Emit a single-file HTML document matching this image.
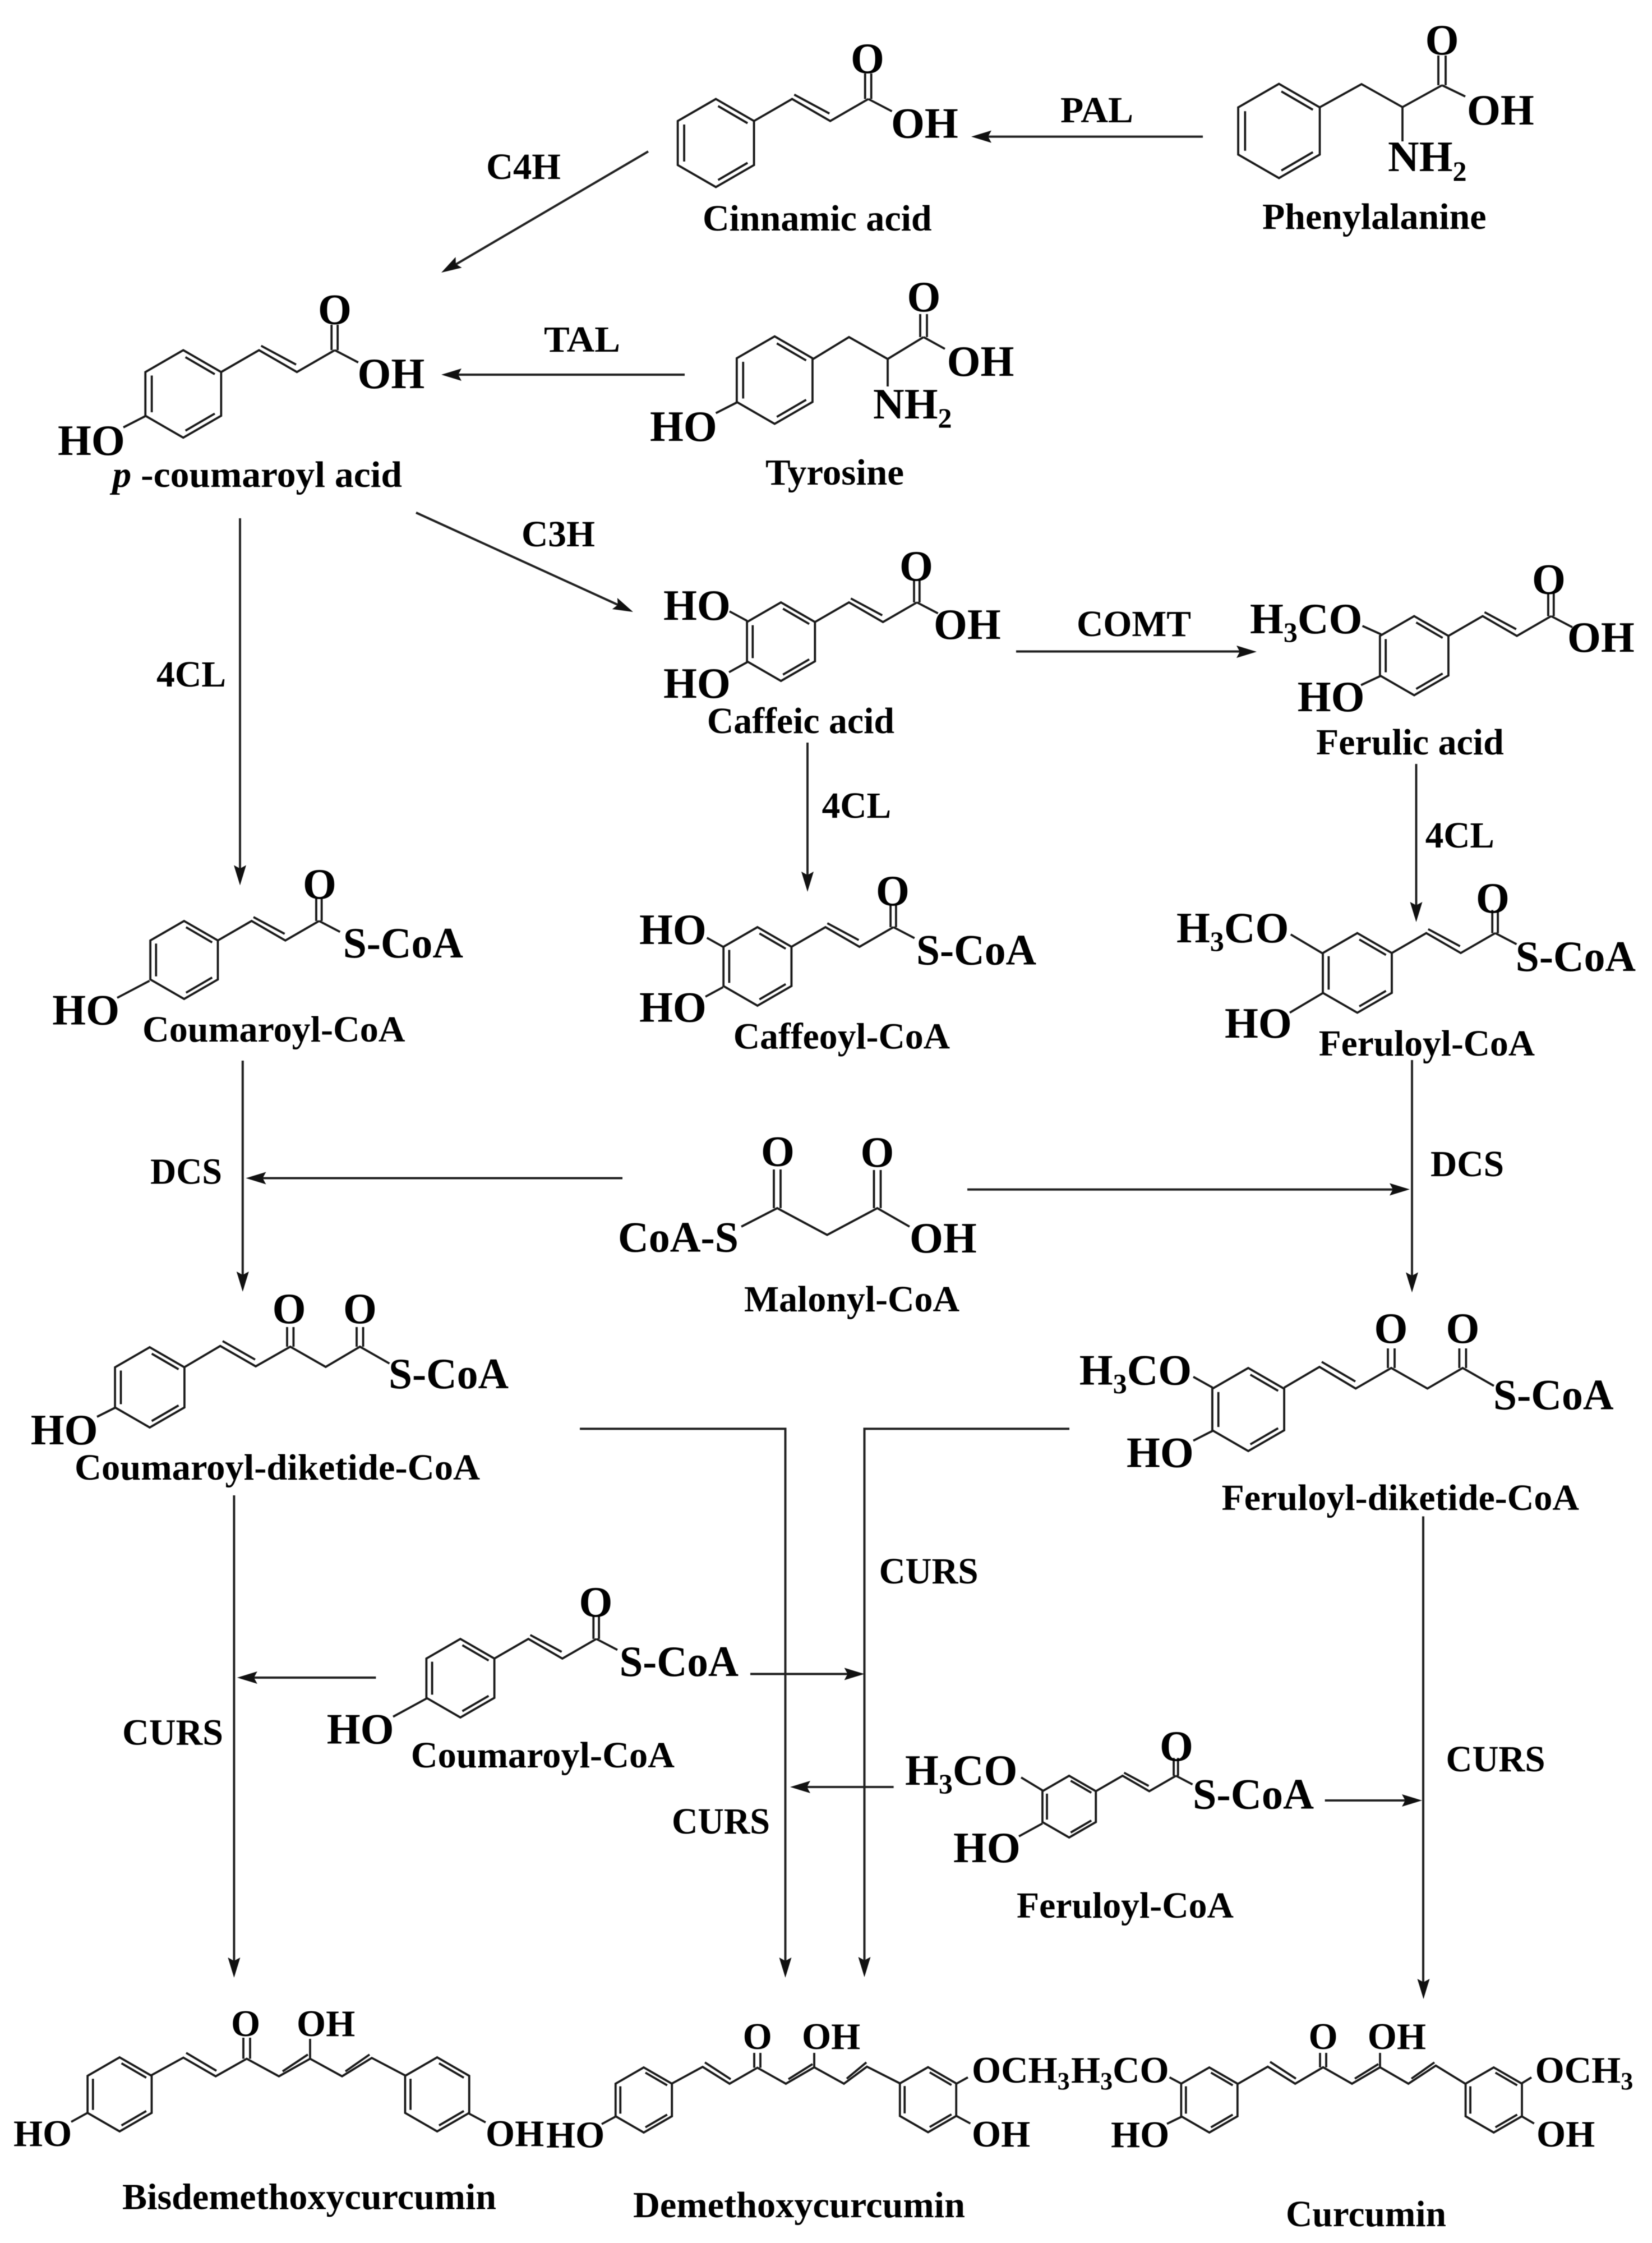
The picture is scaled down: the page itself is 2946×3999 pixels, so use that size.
<!DOCTYPE html>
<html><head><meta charset="utf-8"><style>
html,body{margin:0;padding:0;background:#fff}
svg{display:block;filter:blur(.9px)}
text{font-family:"Liberation Serif",serif;font-weight:bold;fill:#000}
.m{font-size:77px}.s{font-size:67px}.n{font-size:66px}.c{text-anchor:middle}
.nss{vector-effect:non-scaling-stroke}
.b{fill:none;stroke:#1a1a1a;stroke-width:3.8}
.a{fill:none;stroke:#222;stroke-width:4}
</style></head><body>
<svg xmlns="http://www.w3.org/2000/svg" width="2946" height="3999" viewBox="0 0 2946 3999">
<defs>
<path id="ring" class="nss" d="M0-100 86.6-50V50L0 100-86.6 50V-50ZM5-84 72-45M72 45 5 84M-72-42V42"/>
<g id="cin"><use href="#ring"/><path class="nss" d="M86.6-50 173.2-100 259.8-50 346.4-100M178-110 258-67M339-100V-158M353-100V-158M346.4-100 400-72"/></g>
<polygon id="ah" points="0,0 -36,-11 -30,0 -36,11" fill="#111"/>
</defs>
<rect width="2946" height="3999" fill="#fff"/>

<g class="b">
<!-- cinnamic -->
<use href="#cin" transform="translate(1276.6 255) scale(.785)"/>
<!-- phenylalanine -->
<use href="#ring" transform="translate(2280.8 233.5) scale(.84)"/>
<path d="M2354 191 2428 150 2501 191 2571.6 152M2565 152V99M2578 152V99M2571.6 152 2613 172M2501 191V252"/>
<!-- tyrosine -->
<use href="#ring" transform="translate(1381.4 677.7) scale(.78)"/>
<path d="M1448.5 641 1514 601 1583 640 1647 601M1641 601V560M1653 601V560M1647 601 1685 622M1583 640V689M1314 717.5 1276.6 736.6"/>
<!-- p-coumaroyl -->
<use href="#cin" transform="translate(326.8 702.3) scale(.78)"/>
<path d="M259 742 220 762"/>
<!-- caffeic -->
<use href="#cin" transform="translate(1392.7 1144) scale(.7)"/>
<path d="M1332.5 1107 1301 1090M1332.5 1180.6 1300 1198.5"/>
<!-- ferulic -->
<use href="#cin" transform="translate(2521.9 1169) scale(.705)"/>
<path d="M2463 1131 2429.6 1116M2463 1204.6 2427 1221.5"/>
<!-- coumaroyl CoA -->
<use href="#cin" transform="translate(328.3 1711.5) scale(.695)"/>
<path d="M266.6 1748.7 209 1779"/>
<!-- caffeoyl CoA -->
<use href="#cin" transform="translate(1350.8 1723) scale(.7)"/>
<path d="M1289.4 1688 1260.7 1672M1289.4 1760 1258 1777"/>
<!-- feruloyl CoA -->
<use href="#cin" transform="translate(2420.5 1734.6) scale(.71)"/>
<path d="M2359 1700 2301.7 1666M2359 1770.5 2300 1805.5"/>
<!-- malonyl -->
<path d="M1322 2187 1386 2154 1475 2201.7 1564.5 2154 1622 2187M1380 2154V2085M1392 2154V2085M1558.5 2154V2086M1570.5 2154V2086"/>
<!-- coumaroyl diketide -->
<use href="#ring" transform="translate(267 2473.5) scale(.715)"/>
<path d="M329.7 2437 392.8 2399.7 456 2436 517.7 2401 580.8 2437 641.9 2401 694.5 2431M397 2391 455 2424M512 2401V2366M523.4 2401V2366M636 2401V2366M647.6 2401V2366M204.8 2510 173 2526"/>
<!-- feruloyl diketide -->
<use href="#ring" transform="translate(2226 2513) scale(.74)"/>
<path d="M2290 2474 2353 2437 2417.6 2475.6 2481 2439 2545.5 2475.6 2608.4 2439 2664 2470.8M2357 2428 2417 2463M2475 2439V2404M2487 2439V2404M2602.4 2439V2404M2614.4 2439V2404M2162.5 2474 2128 2454.7M2162.5 2551 2128 2568.6"/>
<!-- bottom coumaroyl CoA -->
<use href="#cin" transform="translate(821 2992) scale(.7)"/>
<path d="M761 3028 701 3060.7"/>
<!-- bottom feruloyl CoA -->
<use href="#cin" transform="translate(1906.6 3221) scale(.55)"/>
<path d="M1859 3192 1821 3169M1859 3251 1817 3274"/>
<!-- bisdemethoxycurcumin -->
<use href="#ring" transform="translate(213.3 3734) scale(.66)"/>
<use href="#ring" transform="translate(779.6 3734) scale(.66)"/>
<path d="M269.8 3700 327 3668.5 384.6 3701.8 440 3670.5 497.4 3701.8 553 3670.5 610 3701.8 663 3669 722 3700M332 3660 386 3692M504 3693 549 3663M616 3693 659 3663M434 3670.5V3633M446 3670.5V3633M553 3670.5V3635M156 3767 127 3783M834 3767 866 3784"/>
<!-- demethoxycurcumin -->
<use href="#ring" transform="translate(1148 3744) scale(.58)"/>
<use href="#ring" transform="translate(1655 3743.5) scale(.58)"/>
<path d="M1197.7 3715 1253 3685 1301 3715 1350.7 3686.5 1401.4 3715 1452 3685.7 1505 3715 1546 3684.6 1606 3715M1257 3677 1303 3707M1406 3707 1449 3680M1510 3706 1545 3677M1345 3686.5V3660M1356 3686.5V3660M1452 3685.7V3660M1705.6 3715 1726 3703.7M1705.6 3772.5 1730.5 3786M1097 3774 1073 3787"/>
<!-- curcumin -->
<use href="#ring" transform="translate(2156.6 3744) scale(.58)"/>
<use href="#ring" transform="translate(2663.8 3744) scale(.58)"/>
<path d="M2208 3715 2260.8 3684.6 2309.7 3715 2359.5 3685.7 2411 3715 2461 3685.7 2511.6 3715 2560.5 3682.7 2613 3715M2265 3676 2311 3706M2416 3706 2458 3680M2517 3706 2558 3677M2354 3685.7V3660M2365 3685.7V3660M2461 3685.7V3660M2106.8 3715 2085.6 3703.7M2106.8 3774 2081 3786.6M2712.7 3715 2731 3703.7M2712.7 3772.5 2735.8 3786"/>
</g>

<!-- connectors -->
<g class="a">
<path d="M2145 243.6H1755M1156 270 805 476M1221 668H810M742 914 1110 1082M428 924V1555M1440 1324V1570M1812 1161.5H2220M2525.5 1362V1625M432.8 1891V2285M1110 2100.5H455M1725 2120.7H2495M2518 1890V2285M417.4 2666V3505M1034 2547.4H1400.5V3505M1907 2547.4H1541.5V3505M2538 2703.5V3545M670.4 2991H440M1338 2984.5H1525M1593.6 3186H1430M2362.7 3210H2520"/>
</g>
<use href="#ah" transform="translate(1732 243.6) rotate(180)"/>
<use href="#ah" transform="translate(787 486) rotate(149.6)"/>
<use href="#ah" transform="translate(787 668) rotate(180)"/>
<use href="#ah" transform="translate(1129 1091) rotate(24.6)"/>
<use href="#ah" transform="translate(428 1578.5) rotate(90)"/>
<use href="#ah" transform="translate(1440 1590) rotate(90)"/>
<use href="#ah" transform="translate(2241 1162) rotate(0)"/>
<use href="#ah" transform="translate(2525.5 1644) rotate(90)"/>
<use href="#ah" transform="translate(432.8 2303) rotate(90)"/>
<use href="#ah" transform="translate(438.4 2100.5) rotate(180)"/>
<use href="#ah" transform="translate(2514 2120.5) rotate(0)"/>
<use href="#ah" transform="translate(2518 2304.4) rotate(90)"/>
<use href="#ah" transform="translate(417.4 3526) rotate(90)"/>
<use href="#ah" transform="translate(1400.5 3526) rotate(90)"/>
<use href="#ah" transform="translate(1541.5 3525) rotate(90)"/>
<use href="#ah" transform="translate(2538.5 3564) rotate(90)"/>
<use href="#ah" transform="translate(422.8 2991) rotate(180)"/>
<use href="#ah" transform="translate(1541.6 2984.5) rotate(0)"/>
<use href="#ah" transform="translate(1409 3186) rotate(180)"/>
<use href="#ah" transform="translate(2536 3210) rotate(0)"/>

<!-- enzyme labels -->
<g class="n">
<text x="1891" y="218" textLength="130" lengthAdjust="spacingAndGlyphs">PAL</text>
<text x="867" y="319" textLength="133" lengthAdjust="spacingAndGlyphs">C4H</text>
<text x="970" y="627" textLength="136" lengthAdjust="spacingAndGlyphs">TAL</text>
<text x="930" y="974" textLength="131" lengthAdjust="spacingAndGlyphs">C3H</text>
<text x="279" y="1224" textLength="124" lengthAdjust="spacingAndGlyphs">4CL</text>
<text x="1465.6" y="1458" textLength="123.5" lengthAdjust="spacingAndGlyphs">4CL</text>
<text x="2541.8" y="1511" textLength="123" lengthAdjust="spacingAndGlyphs">4CL</text>
<text x="1920" y="1134" textLength="204" lengthAdjust="spacingAndGlyphs">COMT</text>
<text x="268" y="2110.7" textLength="128" lengthAdjust="spacingAndGlyphs">DCS</text>
<text x="2551" y="2096.8" textLength="131" lengthAdjust="spacingAndGlyphs">DCS</text>
<text x="1567.6" y="2823" textLength="177" lengthAdjust="spacingAndGlyphs">CURS</text>
<text x="218" y="3110.7" textLength="180" lengthAdjust="spacingAndGlyphs">CURS</text>
<text x="1198" y="3269" textLength="175" lengthAdjust="spacingAndGlyphs">CURS</text>
<text x="2578.5" y="3158" textLength="177" lengthAdjust="spacingAndGlyphs">CURS</text>
</g>

<!-- compound names -->
<g class="n">
<text x="1253" y="411" textLength="408.6" lengthAdjust="spacingAndGlyphs">Cinnamic acid</text>
<text x="2251" y="408" textLength="399.5" lengthAdjust="spacingAndGlyphs">Phenylalanine</text>
<text x="1365" y="864" textLength="247" lengthAdjust="spacingAndGlyphs">Tyrosine</text>
<text x="200.5" y="868" textLength="516.5" lengthAdjust="spacingAndGlyphs"><tspan font-style="italic">p</tspan> -coumaroyl acid</text>
<text x="1260.7" y="1307" textLength="334.3" lengthAdjust="spacingAndGlyphs">Caffeic acid</text>
<text x="2347" y="1345" textLength="334.7" lengthAdjust="spacingAndGlyphs">Ferulic acid</text>
<text x="254" y="1857" textLength="468.5" lengthAdjust="spacingAndGlyphs">Coumaroyl-CoA</text>
<text x="1307.8" y="1869.5" textLength="386.2" lengthAdjust="spacingAndGlyphs">Caffeoyl-CoA</text>
<text x="2351.7" y="1882" textLength="385.3" lengthAdjust="spacingAndGlyphs">Feruloyl-CoA</text>
<text x="1327" y="2338" textLength="384" lengthAdjust="spacingAndGlyphs">Malonyl-CoA</text>
<text x="133" y="2638" textLength="723" lengthAdjust="spacingAndGlyphs">Coumaroyl-diketide-CoA</text>
<text x="2178.5" y="2692" textLength="637.5" lengthAdjust="spacingAndGlyphs">Feruloyl-diketide-CoA</text>
<text x="732.8" y="3151" textLength="470.2" lengthAdjust="spacingAndGlyphs">Coumaroyl-CoA</text>
<text x="1813" y="3419" textLength="387" lengthAdjust="spacingAndGlyphs">Feruloyl-CoA</text>
<text x="218" y="3938.6" textLength="667" lengthAdjust="spacingAndGlyphs">Bisdemethoxycurcumin</text>
<text x="1129" y="3952.8" textLength="592" lengthAdjust="spacingAndGlyphs">Demethoxycurcumin</text>
<text x="2293" y="3969" textLength="286" lengthAdjust="spacingAndGlyphs">Curcumin</text>
</g>

<!-- atom labels -->
<g class="m">
<text class="c" x="1547" y="130">O</text><text x="1589" y="245.6">OH</text>
<text class="c" x="2571.6" y="97">O</text><text x="2616" y="222">OH</text>
<text x="2475" y="305">NH<tspan font-size="50" dy="17">2</tspan></text>
<text class="c" x="1647.5" y="555">O</text><text x="1688.6" y="670">OH</text>
<text x="1557" y="746">NH<tspan font-size="50" dy="16">2</tspan></text>
<text x="1159" y="786">HO</text>
<text class="c" x="597" y="577.5">O</text><text x="637.5" y="692">OH</text><text x="103" y="811">HO</text>
<text class="c" x="1634" y="1035">O</text><text x="1665" y="1139">OH</text><text x="1183" y="1105">HO</text><text x="1183" y="1244">HO</text>
<text class="c" x="2762" y="1058.6">O</text><text x="2795" y="1162">OH</text>
<text x="2229" y="1129">H<tspan font-size="50" dy="15">3</tspan><tspan dy="-15">CO</tspan></text>
<text x="2313.7" y="1268">HO</text>
<text class="c" x="570" y="1602">O</text><text x="611.7" y="1707" textLength="214.3" lengthAdjust="spacingAndGlyphs">S-CoA</text><text x="93.3" y="1826.6">HO</text>
<text class="c" x="1592" y="1614">O</text><text x="1634" y="1719.6" textLength="214" lengthAdjust="spacingAndGlyphs">S-CoA</text><text x="1140" y="1683">HO</text><text x="1140" y="1821.6">HO</text>
<text class="c" x="2662" y="1627">O</text><text x="2702.8" y="1731" textLength="214.2" lengthAdjust="spacingAndGlyphs">S-CoA</text>
<text x="2098" y="1680">H<tspan font-size="50" dy="15">3</tspan><tspan dy="-15">CO</tspan></text>
<text x="2184" y="1850">HO</text>
<text x="1102" y="2231.6" textLength="215" lengthAdjust="spacingAndGlyphs">CoA-S</text>
<text class="c" x="1387" y="2078.6">O</text><text class="c" x="1564.5" y="2080">O</text><text x="1622" y="2233">OH</text>
<text class="c" x="515.6" y="2359">O</text><text class="c" x="641.9" y="2359">O</text><text x="693" y="2474.8" textLength="214" lengthAdjust="spacingAndGlyphs">S-CoA</text><text x="54.7" y="2575">HO</text>
<text class="c" x="2480.5" y="2394">O</text><text class="c" x="2608.4" y="2394">O</text><text x="2663" y="2512.7" textLength="214.5" lengthAdjust="spacingAndGlyphs">S-CoA</text>
<text x="1924.8" y="2468.7">H<tspan font-size="50" dy="15">3</tspan><tspan dy="-15">CO</tspan></text>
<text x="2009" y="2615.5">HO</text>
<text class="c" x="1062.5" y="2882">O</text><text x="1104.6" y="2988" textLength="212.4" lengthAdjust="spacingAndGlyphs">S-CoA</text><text x="582.7" y="3108.5">HO</text>
<text class="c" x="2098" y="3138.8">O</text><text x="2127" y="3224.5" textLength="216" lengthAdjust="spacingAndGlyphs">S-CoA</text>
<text x="1614" y="3182">H<tspan font-size="50" dy="15">3</tspan><tspan dy="-15">CO</tspan></text>
<text x="1700" y="3320">HO</text>
</g>
<g class="s">
<text class="c" x="438" y="3630">O</text><text x="529" y="3630">OH</text><text x="24" y="3826">HO</text><text x="866" y="3826">OH</text>
<text x="974" y="3828.6">HO</text><text class="c" x="1350.7" y="3653">O</text><text x="1430" y="3653">OH</text>
<text x="1733" y="3713">OCH<tspan font-size="44" dy="12">3</tspan></text><text x="1733" y="3827">OH</text>
<text x="1910" y="3713">H<tspan font-size="44" dy="12">3</tspan><tspan dy="-12">CO</tspan></text>
<text x="1981" y="3828">HO</text><text class="c" x="2359.5" y="3653">O</text><text x="2438.8" y="3653">OH</text>
<text x="2737.6" y="3713">OCH<tspan font-size="44" dy="12">3</tspan></text><text x="2740" y="3827">OH</text>
</g>
</svg>
</body></html>
